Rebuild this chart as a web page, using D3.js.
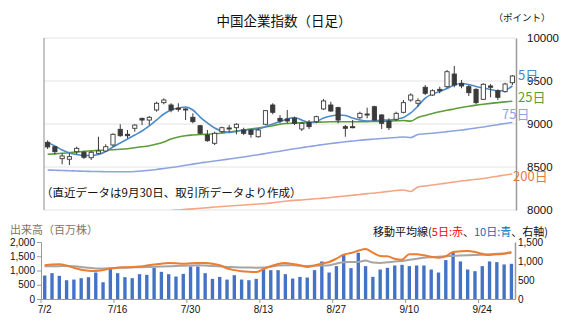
<!DOCTYPE html>
<html>
<head>
<meta charset="utf-8">
<script src="https://cdn.jsdelivr.net/npm/d3@7"></script>
<style>
  body { margin: 0; background: #fff; }
  svg { display: block; }
  text { font-family: "Liberation Sans", Arial, sans-serif; }
  .jp { font-family: "Noto Sans CJK JP", sans-serif; }
</style>
</head>
<body>
<div id="chart"></div>
<script>
// trading days, 7/2 - 9/30
const dates = ["7/2","7/3","7/4","7/5","7/8","7/9","7/10","7/11","7/12","7/15",
  "7/16","7/17","7/18","7/19","7/22","7/23","7/24","7/25","7/26","7/29",
  "7/30","7/31","8/1","8/2","8/5","8/6","8/7","8/8","8/9","8/12",
  "8/13","8/14","8/15","8/16","8/19","8/20","8/21","8/22","8/23","8/26",
  "8/27","8/28","8/29","8/30","9/2","9/3","9/4","9/5","9/6","9/9",
  "9/10","9/11","9/12","9/13","9/16","9/17","9/18","9/19","9/20","9/23",
  "9/24","9/25","9/26","9/27","9/30"];
const tickDates = ["7/2","7/16","7/30","8/13","8/27","9/10","9/24"];

// daily candles (points)
const openP = [8787,8736,8597,8590,8678,8671,8608,8659,8686,8756,
  8938,8880,8950,9066,9046,9163,9248,9221,9183,9175,
  9078,8980,8872,8776,8911,8954,8957,8930,8930,8852,
  8997,9221,9066,9058,9066,8942,9020,9027,9175,9221,
  9190,8969,8969,9073,9116,9201,9105,9035,9055,9136,
  9279,9241,9427,9337,9403,9434,9581,9473,9434,9403,
  9287,9442,9387,9376,9480];
const highP = [8810,8744,8659,8659,8736,8686,8686,8852,8764,8892,
  8997,8930,8997,9073,9093,9259,9299,9241,9241,9183,
  9124,8988,8930,8911,8969,8988,9008,8957,8942,8950,
  9163,9241,9105,9163,9085,9027,9046,9097,9291,9259,
  9201,8988,9046,9143,9190,9213,9113,9066,9143,9279,
  9357,9299,9453,9403,9434,9628,9674,9512,9453,9415,
  9473,9465,9403,9480,9570];
const lowP = [8709,8648,8531,8523,8648,8593,8582,8648,8678,8736,
  8852,8834,8910,8988,8988,9143,9229,9136,9143,9046,
  9008,8880,8794,8756,8892,8903,8880,8872,8841,8841,
  8988,9113,9008,9008,8988,8919,8942,9008,9163,9143,
  9008,8852,8950,9058,9066,9035,8942,8930,9035,9124,
  9259,9201,9337,9326,9357,9415,9427,9415,9326,9233,
  9279,9310,9279,9364,9453];
const closeP = [8733,8678,8628,8620,8717,8613,8671,8686,8736,8880,
  8864,8864,8988,9046,9078,9241,9279,9163,9171,9163,
  9027,8892,8806,8892,8957,8942,8997,8892,8880,8930,
  9155,9136,9035,9035,9008,9008,8969,9085,9268,9151,
  9046,8950,8957,9124,9108,9046,9008,8957,9124,9248,
  9337,9271,9357,9387,9387,9608,9453,9442,9364,9248,
  9462,9427,9310,9465,9558];

// moving averages (points)
const ma5 = [8787,8744,8698,8663,8645,8634,8634,8645,8680,8733,
  8779,8826,8872,8919,8977,9047,9116,9163,9186,9198,
  9163,9081,9012,8954,8919,8901,8913,8930,8936,8942,
  8971,9000,9029,9058,9076,9047,9018,9029,9070,9093,
  9105,9099,9070,9047,9035,9035,9047,9047,9058,9076,
  9128,9209,9302,9349,9378,9413,9454,9471,9459,9436,
  9419,9401,9384,9395,9442];
const ma25 = [8648,8653,8659,8667,8674,8683,8688,8694,8698,8701,
  8706,8713,8723,8735,8748,8767,8791,8826,8849,8864,
  8872,8878,8881,8886,8895,8907,8919,8930,8942,8954,
  8965,8980,8997,9006,9012,9014,9018,9020,9023,9026,
  9027,9027,9027,9027,9028,9029,9031,9035,9037,9040,
  9033,9076,9099,9122,9142,9159,9175,9192,9206,9219,
  9230,9240,9249,9257,9265];
const ma75 = [8465,8462,8459,8456,8453,8450,8448,8447,8445,8444,
  8444,8445,8448,8453,8462,8471,8483,8494,8506,8520,
  8533,8547,8558,8570,8581,8593,8605,8616,8630,8643,
  8657,8671,8684,8698,8712,8724,8738,8750,8762,8773,
  8783,8793,8802,8811,8818,8826,8831,8837,8843,8849,
  8842,8878,8886,8893,8901,8911,8921,8930,8942,8954,
  8965,8979,8992,9006,9018];
const ma200 = [null,null,null,null,null,null,null,null,null,null,
  null,null,null,null,null,null,null,7993,8000,8007,
  8013,8020,8027,8034,8041,8047,8052,8058,8064,8070,
  8076,8085,8095,8105,8112,8117,8124,8131,8138,8145,
  8155,8163,8172,8180,8190,8198,8207,8217,8227,8233,
  8215,8268,8279,8291,8302,8314,8326,8337,8347,8357,
  8366,8380,8393,8407,8419];

// volume (million shares) and its moving averages (right axis)
const volume = [824,906,812,659,682,730,765,929,588,1059,
  906,765,730,870,847,1094,953,870,788,882,
  1141,1141,906,706,776,682,835,682,659,706,
  1047,1012,1012,871,718,776,753,1012,1318,929,
  1153,1553,1082,1624,1153,776,1035,1094,1176,1200,
  1153,1176,1176,1035,929,1365,1624,1318,1035,976,
  1153,1318,1294,1212,1235];
const volMa5 = [890,905,912,880,820,770,745,737,760,800,
  825,835,842,855,880,905,930,945,940,930,
  940,947,945,930,890,810,760,730,715,710,
  790,860,920,945,920,886,842,880,930,973,
  1060,1166,1210,1270,1316,1220,1131,1123,1060,1035,
  1180,1175,1149,1110,1087,1123,1237,1254,1263,1237,
  1190,1158,1175,1193,1237];
const volMa10 = [860,862,865,866,860,845,825,805,800,812,
  820,825,830,836,842,848,855,862,868,875,
  880,886,880,870,858,845,838,832,828,825,
  826,850,880,890,885,872,868,875,882,890,
  930,970,973,975,1010,960,950,965,985,1000,
  1030,1060,1087,1100,1112,1123,1132,1142,1150,1157,
  1165,1175,1190,1200,1210];

const priceTicks = [8000, 8500, 9000, 9500, 10000];
const volTicks = [0, 500, 1000, 1500, 2000];
const volTicksR = [0, 500, 1000, 1500];

const width = 567, height = 334;
const svg = d3.select("#chart").append("svg")
  .attr("width", width).attr("height", height);

/* ---------- price panel ---------- */
const pm = {left: 44, right: 516, top: 38, bottom: 210};
const xTop = d3.scaleBand().domain(dates).range([pm.left, pm.right]);
const yTop = d3.scaleLinear().domain([8000, 10000]).range([pm.bottom, pm.top]);

svg.append("defs").append("clipPath").attr("id", "clipTop")
  .append("rect").attr("x", pm.left).attr("y", pm.top)
  .attr("width", pm.right - pm.left).attr("height", pm.bottom - pm.top);

// gridlines
svg.append("g").selectAll("line").data(priceTicks).join("line")
  .attr("x1", pm.left).attr("x2", pm.right)
  .attr("y1", d => yTop(d)).attr("y2", d => yTop(d))
  .attr("stroke", "#e4e4e4");

svg.append("line").attr("x1", pm.left).attr("x2", pm.left)
  .attr("y1", pm.top).attr("y2", pm.bottom).attr("stroke", "#8c8c8c");

// right axis
svg.append("g").attr("transform", `translate(${pm.right},0)`)
  .call(d3.axisRight(yTop).tickValues(priceTicks).tickSize(0).tickPadding(11).tickFormat(d => d))
  .call(g => g.select(".domain").attr("stroke", "#9a9a9a").attr("stroke-width", 1.5))
  .call(g => g.selectAll("text").attr("font-size", 11.5).attr("fill", "#111")
    .attr("font-family", "'Liberation Sans', Arial, sans-serif"));

const cx = d => xTop(d) + xTop.bandwidth() / 2;
const maLine = arr => d3.line()
  .defined(d => d != null)
  .x((d, i) => cx(dates[i]))
  .y(d => yTop(d))
  .curve(d3.curveMonotoneX)(arr);

const maSeries = [
  {vals: ma200, color: "#f4a583"},
  {vals: ma75, color: "#8ea4e0"},
  {vals: ma25, color: "#5f9c3a"},
  {vals: ma5, color: "#4c8bcb"}
];
svg.append("g").attr("clip-path", "url(#clipTop)")
  .selectAll("path").data(maSeries).join("path")
  .attr("d", d => maLine(d.vals))
  .attr("fill", "none").attr("stroke", d => d.color).attr("stroke-width", 1.6);

// candles
const candles = dates.map((d, i) => ({date: d, o: openP[i], h: highP[i], l: lowP[i], c: closeP[i]}));
const cw = 4.2;
const cg = svg.append("g").selectAll("g").data(candles).join("g");
cg.append("line")
  .attr("x1", d => cx(d.date)).attr("x2", d => cx(d.date))
  .attr("y1", d => yTop(d.h)).attr("y2", d => yTop(d.l))
  .attr("stroke", "#3a3a3a").attr("stroke-width", 1);
cg.append("rect")
  .attr("x", d => cx(d.date) - cw / 2).attr("width", cw)
  .attr("y", d => yTop(Math.max(d.o, d.c)))
  .attr("height", d => Math.max(1, Math.abs(yTop(d.o) - yTop(d.c))))
  .attr("fill", d => d.c >= d.o ? "#fff" : "#3a3a3a")
  .attr("stroke", "#3a3a3a").attr("stroke-width", 0.9);

// labels
svg.append("text").attr("class", "jp").attr("x", 284).attr("y", 26)
  .attr("text-anchor", "middle").attr("font-size", 13.5).attr("fill", "#111")
  .text("中国企業指数（日足）");
svg.append("text").attr("class", "jp").attr("x", 522).attr("y", 21)
  .attr("text-anchor", "middle").attr("font-size", 9.5).attr("fill", "#111")
  .text("（ポイント）");
const maLabels = [
  {t: "5日", x: 518, y: 80, c: "#4c8bcb"},
  {t: "25日", x: 518, y: 102, c: "#5f9c3a"},
  {t: "75日", x: 502, y: 119, c: "#8ea4e0"},
  {t: "200日", x: 513, y: 181, c: "#e6793f"}
];
svg.append("g").selectAll("text").data(maLabels).join("text")
  .attr("class", "jp").attr("x", d => d.x).attr("y", d => d.y)
  .attr("font-size", 13).attr("fill", d => d.c).text(d => d.t);
svg.append("text").attr("class", "jp").attr("x", 41).attr("y", 197)
  .attr("font-size", 11.5).attr("fill", "#111")
  .text("（直近データは9月30日、取引所データより作成）");

/* ---------- volume panel ---------- */
const bm = {left: 41, right: 515, top: 242, bottom: 299};
const xBot = d3.scaleBand().domain(dates).range([bm.left, bm.right]);
const yVol = d3.scaleLinear().domain([0, 2000]).range([bm.bottom, bm.top]);
const yVolR = d3.scaleLinear().domain([0, 1500]).range([bm.bottom, bm.top]);

svg.append("g").selectAll("rect").data(volume).join("rect")
  .attr("x", (d, i) => xBot(dates[i]) + xBot.bandwidth() * 0.28)
  .attr("width", xBot.bandwidth() * 0.46)
  .attr("y", d => yVol(d)).attr("height", d => yVol(0) - yVol(d))
  .attr("fill", "#4472c4");

const volLine = arr => d3.line()
  .x((d, i) => xBot(dates[i]) + xBot.bandwidth() / 2)
  .y(d => yVolR(d))
  .curve(d3.curveMonotoneX)(arr);
svg.append("path").attr("d", volLine(volMa10)).attr("fill", "none")
  .attr("stroke", "#a5a5a5").attr("stroke-width", 2);
svg.append("path").attr("d", volLine(volMa5)).attr("fill", "none")
  .attr("stroke", "#ed7d31").attr("stroke-width", 2);

// axes
svg.append("g").attr("transform", `translate(${bm.left},0)`)
  .call(d3.axisLeft(yVol).tickValues(volTicks).tickSize(4).tickPadding(2).tickFormat(d3.format(",")))
  .call(g => g.selectAll("line, .domain").attr("stroke", "#9a9a9a"))
  .call(g => g.selectAll("text").attr("font-size", 10).attr("fill", "#111")
    .attr("font-family", "'Liberation Sans', Arial, sans-serif"));
svg.append("g").attr("transform", `translate(${bm.right},0)`)
  .call(d3.axisRight(yVolR).tickValues(volTicksR).tickSize(0).tickPadding(3).tickFormat(d3.format(",")))
  .call(g => g.select(".domain").attr("stroke", "#9a9a9a").attr("stroke-width", 1.5))
  .call(g => g.selectAll("text").attr("font-size", 10).attr("fill", "#111")
    .attr("font-family", "'Liberation Sans', Arial, sans-serif"));

svg.append("g").attr("transform", `translate(0,${bm.bottom})`)
  .call(d3.axisBottom(xBot).tickValues(tickDates).tickSize(0).tickPadding(7))
  .call(g => g.select(".domain").attr("stroke", "#9a9a9a"))
  .call(g => g.selectAll("text").attr("font-size", 10).attr("fill", "#111")
    .attr("font-family", "'Liberation Sans', Arial, sans-serif"));
// tick marks on band edges
svg.append("g").selectAll("line").data(tickDates).join("line")
  .attr("x1", d => xBot(d)).attr("x2", d => xBot(d))
  .attr("y1", bm.bottom).attr("y2", bm.bottom + 4)
  .attr("stroke", "#9a9a9a");

svg.append("text").attr("class", "jp").attr("x", 10).attr("y", 234)
  .attr("font-size", 11).attr("fill", "#86745f").text("出来高（百万株）");

const legend = svg.append("text").attr("class", "jp").attr("x", 548).attr("y", 236)
  .attr("text-anchor", "end").attr("font-size", 11).attr("fill", "#111");
[["移動平均線(", "#111"], ["5日:赤", "#ff0000"], ["、", "#111"],
 ["10日:青", "#0070c0"], ["、右軸)", "#111"]].forEach(([t, c]) => {
  legend.append("tspan").attr("fill", c).text(t);
});
</script>
</body>
</html>
